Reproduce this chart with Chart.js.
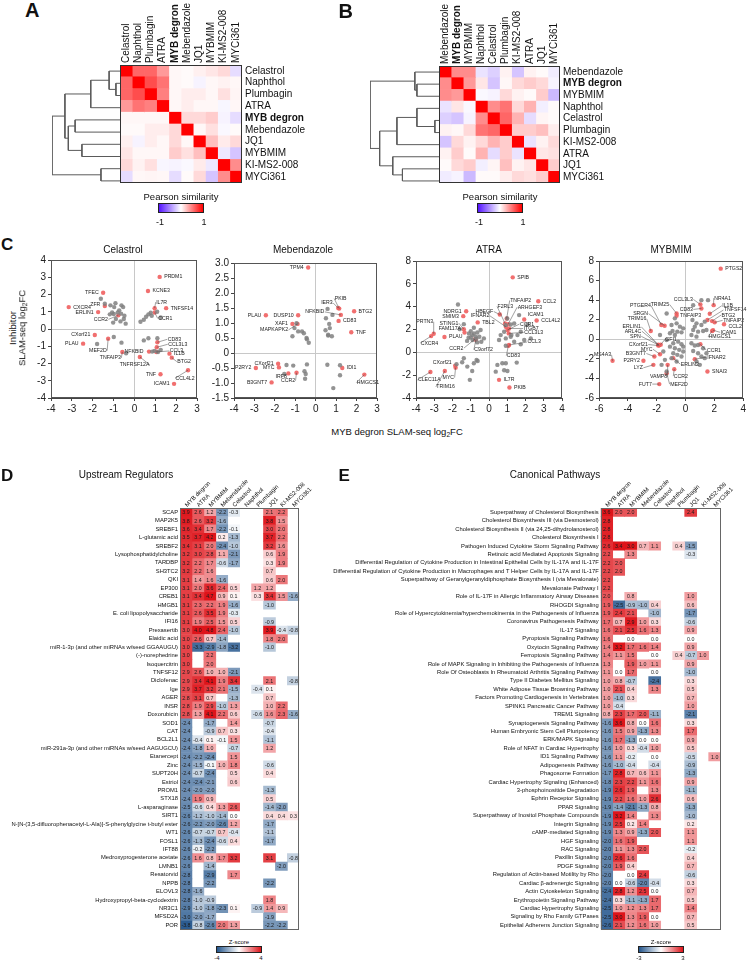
<!DOCTYPE html>
<html>
<head>
<meta charset="utf-8">
<script src="https://cdn.jsdelivr.net/npm/chart.js@4.4.1/dist/chart.umd.min.js"></script>
<style>
  body { margin: 0; background: #fff; }
  #fig { position: relative; width: 748px; height: 962px; overflow: hidden; background: #fff;
         font-family: "Liberation Sans", Arial, sans-serif; color: #111; }
  #fig canvas { position: absolute; }
  .t { position: absolute; white-space: nowrap; line-height: 1; }
  .letter { position: absolute; font-weight: bold; line-height: 1; }
  .bar { position: absolute; box-sizing: border-box; border: 1px solid #222; }
  sub { font-size: 0.7em; vertical-align: -0.25em; line-height: 0; }
</style>
</head>
<body>
<div id="fig"></div>
<script>
const _ = null;

// ---- A / B : pearson similarity between treatments ----
const orderA = ['Celastrol', 'Naphthol', 'Plumbagin', 'ATRA', 'MYB degron', 'Mebendazole', 'JQ1', 'MYBMIM', 'KI-MS2-008', 'MYCi361'];
const pearsonA = [
  [1, .6, .6, .4, .03, .02, .06, .1, .15, -.15],
  [.6, 1, .7, .55, .03, .02, -.05, .03, .05, .03],
  [.6, .7, 1, .5, .03, .07, .07, .03, .12, .04],
  [.4, .55, .5, 1, .03, .07, .03, .03, -.04, .03],
  [.03, .03, .03, .03, 1, .15, .15, .2, -.05, -.15],
  [.02, .02, .07, .07, .15, 1, .03, .12, -.03, .02],
  [.06, -.05, .07, .03, .15, .03, 1, .25, .08, .15],
  [.1, .03, .03, .03, .2, .12, .25, 1, -.1, -.25],
  [.15, .05, .12, -.04, -.05, -.03, .08, -.1, 1, .45],
  [-.15, .03, .04, .03, -.15, .02, .15, -.25, .45, 1]
];
// merges: [child a, child b, height]; new node ids continue after the leaves
const dendroA = [[1, 2, .06], [0, 10, .16], [11, 3, .43], [4, 5, .66], [6, 7, .56], [13, 14, .76], [12, 15, .81], [8, 9, .28], [16, 17, 1]];

const orderB = ['Mebendazole', 'MYB degron', 'MYBMIM', 'Naphthol', 'Celastrol', 'Plumbagin', 'KI-MS2-008', 'ATRA', 'JQ1', 'MYCi361'];
const pearsonB = [
  [1, .45, .45, -.12, -.2, .05, -.25, .05, .02, -.08],
  [.45, 1, .4, .1, -.25, .03, .15, .2, .15, -.05],
  [.45, .4, 1, -.03, -.05, .15, .05, .02, .2, -.3],
  [-.12, .1, -.03, 1, .45, .55, .15, .3, -.07, .02],
  [-.2, -.25, -.05, .45, 1, .6, .3, -.15, .04, .02],
  [.05, .03, .15, .55, .6, 1, .2, .2, .25, .07],
  [-.25, .15, .05, .15, .3, .2, 1, -.12, .05, .15],
  [.05, .2, .02, .3, -.15, .2, -.12, 1, .1, .12],
  [.02, .15, .2, -.07, .04, .25, .05, .1, 1, .2],
  [-.08, -.05, -.3, .02, .02, .07, .15, .12, .2, 1]
];
const dendroB = [[4, 5, .06], [3, 10, .32], [11, 6, .61], [1, 2, .32], [0, 13, .35], [8, 9, .53], [7, 15, .67], [12, 16, .86], [14, 17, 1]];

// ---- C : SLAM-seq log2FC, [x = MYB degron, y = inhibitor] ----
const celastrolX = [-4, 3, 1], celastrolY = [-4, 4, 1];
const celastrolGray = [[-1.61,1.75],[-1.42,1.46],[-1.15,1.37],[-0.97,1.27],[-0.91,1.5],[-0.62,1.37],[-0.54,1.27],[-1.07,0.96],[-0.73,1.08],[-0.48,0.77],[-0.64,0.89],[-1.18,0.85],[-0.99,0.87],[-0.89,0.58],[-1.02,0.37],[-0.67,0.44],[-0.42,0.31],[-0.51,0.58],[-0.8,0.96],
  [0.29,0.42],[0.45,0.54],[0.56,0.71],[0.67,0.85],[0.78,0.94],[0.83,0.77],[1.26,0.67],[1.09,1.0],
  [-1.79,-0.87],[-0.99,-0.46],[-0.62,-0.79],[-0.4,-1.41],
  [0.45,-0.66],[0.67,-0.54],[1.1,-0.54],[0.96,-1.27],[1.13,-1.33],[1.26,-1.21],[0.85,-1.31]];
const celastrolHits = [['PRDM1',1.21,3.02],['KCNE3',0.65,2.2],['TFEC',-1.5,2.1],['IL7R',0.97,1.21],['TNFSF14',1.52,1.21],['CXCR4',-3.15,1.27],['ZFR',-1.42,1.33],['ERLIN1',-1.74,0.98],['CCR2',-0.77,0.79],['CCR1',0.97,0.96],['CXorf21',-1.9,-0.35],['PLAU',-2.46,-0.85],['MEF2D',-1.26,-0.56],['TNFAIP3',-0.58,-1.33],['TNFRSF12A',0.26,-1.62],['NFKBID',0.7,-1.31],['CD83',1.1,-0.77],['CCL3L3',1.07,-1.06],['CCL3',1.05,-1.33],['IL1B',1.68,-1.43],['BTG2',1.79,-1.66],['TNF',1.25,-2.62],['CCL4L2',2.57,-2.39],['ICAM1',1.9,-3.18]];

const mebendazoleX = [-4, 3, 1], mebendazoleY = [-1.5, 3, 0.5];
const mebendazoleGray = [[-1.14,0.56],[-1.04,0.83],[-0.94,0.99],[-0.86,0.72],[-0.67,0.72],[-0.58,0.66],[-0.45,0.5],[-0.34,0.34],[-0.43,0.46],
  [0.48,0.76],[0.61,0.61],[0.69,0.83],[0.66,0.97],[0.82,1.27],[0.5,1.16],[0.61,0.58],[0.79,0.56],[0.58,1.47],
  [-1.43,-0.4],[-1.1,-0.42],[-0.55,-0.61],[-0.49,-0.7],[-0.52,-0.86],[-0.43,-0.38],[0.57,-0.39],[1.19,-0.41],[1.19,-0.74],[0.86,-1.17],[-1.54,-0.7]];
const mebendazoleHits = [['TPM4',-0.37,2.85],['PKIB',1.15,1.48],['IER3',1.1,1.5],['NFKBID',1.23,1.27],['BTG2',1.88,1.39],['CD83',1.12,1.07],['TNF',1.74,0.69],['PLAU',-2.44,1.26],['DUSP10',-0.86,1.26],['XAF1',-1.14,0.97],['MAPKAPK2',-0.89,0.97],['CXorf21',-1.84,-0.36],['MYC',-1.8,-0.48],['P2RY2',-2.93,-0.5],['IRF8',-1.34,-0.68],['CCR2',-0.94,-0.66],['B3GNT7',-2.16,-0.98],['IDI1',1.3,-0.5],['HMGCS1',2.38,-0.72]];

const atraX = [-4, 4, 1], atraY = [-4, 8, 2];
const atraGray = [[-1.7,4.19],[-1.38,2.47],[-1.6,2.03],[-1.0,1.86],[-0.92,1.51],[-1.12,1.28],[-0.83,1.66],[-0.73,1.37],[-0.53,1.37],[-0.42,0.93],[-0.64,0.87],[-0.9,1.08],[-0.28,1.22],[-1.1,1.66],[-0.46,1.95],[-0.83,2.15],[-0.64,1.74],[-1.2,1.0],[-0.7,1.2],[-1.0,1.3],
  [1.65,3.26],[1.0,2.97],[0.92,2.38],[1.19,2.44],[1.38,2.53],[0.83,1.8],[0.64,1.51],[0.55,1.08],[0.92,1.22],[1.19,1.37],[1.56,1.51],[1.74,1.8],[2.11,2.44],[2.29,1.22],[1.93,1.08],[1.38,0.93],[1.74,0.7],[0.92,0.58],[1.23,1.51],
  [-1.38,-0.52],[-1.47,-0.87],[-1.19,-1.25],[-0.83,-0.96],[-0.68,-0.67],[-0.62,-0.76],[-0.92,-1.63],[-1.05,-2.41],[-1.78,-1.05],
  [0.46,-1.1],[0.73,-0.96],[0.92,-0.96],[0.83,-1.57],[1.01,-1.63],[1.52,-0.9],[0.37,-1.69]];
const atraHits = [['SPIB',1.3,6.57],['CCL2',2.7,4.48],['TNFAIP2',0.97,2.97],['F2RL3',0.88,2.53],['ARHGEF3',1.05,2.47],['HBEGF',0.59,3.31],['IFNAR2',0.92,2.24],['TBL2',-0.62,2.62],['ICAM1',1.93,2.88],['CCL4L2',2.61,2.79],['CCR1',1.01,1.95],['ITGB7',1.1,2.09],['CCL3L3',1.08,1.66],['CCL3',1.1,0.64],['CD83',1.06,0.58],['NDRG1',-1.25,3.6],['SMIM3',-1.41,3.17],['STING1',-1.38,2.03],['FAM117A',-1.34,1.74],['PRTN3',-3.03,1.63],['CXCR4',-3.17,1.42],['PLAU',-2.44,1.34],['CCR2',-0.77,1.16],['C9orf72',-0.72,1.1],['CXorf21',-1.85,-1.16],['MYC',-1.83,-1.34],['CLEC11A',-3.21,-1.72],['TRIM16',-2.42,-1.63],['IL7R',0.55,-2.41],['PKIB',1.12,-3.08]];

const mybmimX = [-6, 4, 2], mybmimY = [-6, 8, 2];
const mybmimGray = [[-1.31,2.64],[-0.74,2.14],[-0.97,1.46],[-0.62,1.63],[-0.39,1.29],[-0.9,0.85],[-0.57,0.78],[-0.28,0.71],[-0.74,0.44],[-1.08,0.61],[-0.16,1.12],[-1.77,0.44],[-1.31,-0.07],[-0.85,-0.41],[-0.51,-0.24],[-0.28,-0.51],[-1.08,-0.75],[-0.74,-0.92],[-0.44,-1.08],[-0.16,-0.75],[-0.85,-1.42],[-0.57,-1.59],[-0.28,-1.76],[-0.97,-1.93],[-1.43,-2.1],[-0.62,-2.27],[-0.16,-1.25],[-1.54,-1.25],[-1.66,-2.61],[-1.31,-3.29],
  [0.53,3.49],[1.1,4.0],[1.56,4.0],[0.48,1.97],[0.76,1.63],[1.1,1.46],[1.33,1.8],[0.53,0.95],[0.87,0.78],[1.22,0.85],[1.45,0.95],[0.64,1.29],[0.41,0.44],[0.76,0.27],
  [0.41,-0.41],[0.64,-0.64],[0.87,-0.58],[1.22,-0.92],[0.87,-1.42],[1.1,-1.76],[1.33,-1.93],[1.45,-1.42],[0.53,-1.19],[0.76,-2.27],[0.99,-2.61]];
const mybmimHits = [['PTGS2',2.44,7.22],['NR4A1',1.95,3.49],['IL1B',1.68,2.61],['TNFSF14',1.52,1.97],['BTG2',1.84,1.86],['TNFAIP2',2.02,1.73],['CCL2',2.67,1.53],['ICAM1',1.91,0.92],['HMGCS1',1.84,0.85],['CCL3L3',1.03,3.56],['CD83',1.1,3.15],['TRIM25',-0.62,2.64],['TNFAIP3',-0.62,2.41],['PTGER4',-1.68,1.46],['SRGN',-1.45,1.39],['TRIM16',-2.41,0.85],['ERLIN1',-1.89,-0.56],['ARL4C',-1.85,-0.6],['SPN',-1.82,-0.62],['CXorf21',-1.89,-0.64],['GFI1',-1.72,-0.55],['MYC',-1.77,-1.53],['B3GNT7',-2.16,-1.76],['P2RY2',-2.92,-2.2],['LYZ',-2.23,-2.61],['MS4A3',-5.06,-2.2],['VAMP8',-1.24,-2.61],['FUT7',-1.82,-4.58],['MEF2D',-1.31,-3.46],['CCR2',-0.78,-3.05],['ERLIN2',-0.85,-1.93],['CCR1',1.03,-0.51],['IFNAR2',0.64,-2.03],['SNAI3',1.52,-3.29]];

// ---- D / E : IPA z-scores ----
const heatmapColumns = ['MYB degron', 'ATRA', 'MYBMIM', 'Mebendazole', 'Celastrol', 'Naphthol', 'Plumbagin', 'JQ1', 'KI-MS2-008', 'MYCi361'];

const upstreamRows = ['SCAP','MAP2K5','SREBF1','L-glutamic acid','SREBF2','Lysophosphatidylcholine','TARDBP','SH3TC2','QKI','EP300','CREB1','HMGB1','E. coli lipopolysaccharide','IFI16','Prexasertib','Elaidic acid','miR-1-3p (and other miRNAs w/seed GGAAUGU)','(-)-norephedrine','Isoquercitrin','TNFSF12','Diclofenac','Ige','AGER','INSR','Doxorubicin','SOD1','CAT','BCL2L1','miR-291a-3p (and other miRNAs w/seed AAGUGCU)','Etanercept','Zinc','SUPT20H','Estriol','PROM1','STX18','L-asparaginase','SIRT1','N-[N-(3,5-difluorophenacetyl-L-Ala)]-S-phenylglycine t-butyl ester','WT1','FOSL1','IFT88','Medroxyprogesterone acetate','LMNB1','Resatorvid','NPPB','ELOVL3','Hydroxypropyl-beta-cyclodextrin','NR3C1','MFSD2A','POR'];
const upstreamZ = [
  [3.9,2.6,1.2,-2.2,-0.3,_,_,2.1,2.2,_],
  [3.8,2.6,3.2,-1.6,_,_,_,3.8,1.5,_],
  [3.6,3.4,1.7,-2.2,-0.1,_,_,3.0,2.0,_],
  [3.5,3.7,4.2,0.2,-1.3,_,_,3.7,2.2,_],
  [3.4,3.1,2.0,-2.4,-1.0,_,_,3.2,1.6,_],
  [3.2,3.0,2.8,1.1,-2.1,_,_,0.6,1.9,_],
  [3.2,2.2,1.7,-0.6,-1.7,_,_,0.3,1.9,_],
  [3.2,2.2,1.6,_,_,_,_,0.7,_,_],
  [3.1,1.4,1.6,-1.6,_,_,_,0.6,2.0,_],
  [3.1,2.0,3.6,2.4,0.5,_,1.2,1.2,_,_],
  [3.1,3.4,4.7,0.9,0.1,_,0.3,3.4,1.5,-1.6],
  [3.1,2.3,2.2,1.9,-1.6,_,_,-1.0,_,_],
  [3.1,2.6,3.5,1.9,-0.3,_,_,_,_,_],
  [3.1,1.9,2.5,1.5,0.5,_,_,-0.9,_,_],
  [3.0,4.0,4.8,2.4,-1.0,_,_,3.9,-0.4,-0.8],
  [3.0,2.6,0.7,-1.4,_,_,_,1.8,2.0,_],
  [3.0,-3.3,-2.9,-1.8,-3.2,_,_,-1.0,_,_],
  [3.0,_,2.2,_,_,_,_,_,_,_],
  [3.0,_,2.0,_,_,_,_,_,_,_],
  [2.9,2.6,1.0,1.0,-2.1,_,_,_,_,_],
  [2.9,3.4,4.1,1.9,3.4,_,_,2.1,_,-0.8],
  [2.9,3.7,3.2,2.1,-1.5,_,-0.4,0.1,_,_],
  [2.8,3.1,0.7,_,-1.3,_,_,0.7,_,_],
  [2.8,1.9,2.9,-1.0,1.3,_,_,1.0,2.2,_],
  [2.8,1.3,4.1,2.2,0.6,_,-0.6,1.6,2.3,-1.6],
  [-2.4,_,-1.7,_,1.4,_,_,-0.7,_,_],
  [-2.4,_,-0.9,0.7,0.3,_,_,-0.4,_,_],
  [-2.4,-0.4,0.1,-0.1,1.5,_,_,-1.1,_,_],
  [-2.4,-1.8,1.0,_,-0.7,_,_,1.2,_,_],
  [-2.4,-2.2,-2.4,_,1.5,_,_,_,_,_],
  [-2.4,-1.5,-0.1,1.0,1.8,_,_,-0.6,_,_],
  [-2.4,-0.7,-2.4,_,0.5,_,_,0.4,_,_],
  [-2.4,-2.4,-2.1,_,0.6,_,_,_,_,_],
  [-2.4,-2.0,-2.0,_,_,_,_,-1.3,_,_],
  [-2.4,1.9,0.9,_,_,_,_,0.5,_,_],
  [-2.5,-0.6,0.4,1.3,2.6,_,_,-1.4,-2.0,_],
  [-2.6,-1.2,-1.0,-1.4,0.0,_,_,0.4,0.4,0.3],
  [-2.6,-2.2,-2.0,-2.6,1.2,_,_,-1.7,_,_],
  [-2.6,-0.7,-0.7,0.7,-0.4,_,_,-1.1,_,_],
  [-2.6,-1.3,-2.4,-0.6,0.4,_,_,-1.7,_,_],
  [-2.6,-0.2,-2.2,_,_,_,_,_,_,_],
  [-2.6,1.6,0.8,1.7,3.2,_,_,3.1,_,-0.8],
  [-2.6,_,-1.4,_,_,_,_,_,-2.0,_],
  [-2.8,_,-2.9,_,1.7,_,_,_,_,_],
  [-2.8,_,-2.2,_,_,_,_,-2.2,_,_],
  [-2.8,-1.6,_,_,_,_,_,_,_,_],
  [-2.8,-1.0,-0.9,_,_,_,_,1.8,_,_],
  [-2.9,-1.0,-1.8,-2.3,0.1,_,-0.9,1.4,0.9,_],
  [-3.0,-2.0,-1.7,_,_,_,_,-1.9,_,_],
  [-3.8,-0.8,-2.6,2.0,1.3,_,_,-2.2,-2.2,_]
];

const pathwayRows = ['Superpathway of Cholesterol Biosynthesis','Cholesterol Biosynthesis III (via Desmosterol)','Cholesterol Biosynthesis II (via 24,25-dihydrolanosterol)','Cholesterol Biosynthesis I','Pathogen Induced Cytokine Storm Signaling Pathway','Retinoic acid Mediated Apoptosis Signaling','Differential Regulation of Cytokine Production in Intestinal Epithelial Cells by IL-17A and IL-17F','Differential Regulation of Cytokine Production in Macrophages and T Helper Cells by IL-17A and IL-17F','Superpathway of Geranylgeranyldiphosphate Biosynthesis I (via Mevalonate)','Mevalonate Pathway I','Role of IL-17F in Allergic Inflammatory Airway Diseases','RHOGDI Signaling','Role of Hypercytokinemia/hyperchemokinemia in the Pathogenesis of Influenza','Coronavirus Pathogenesis Pathway','IL-17 Signaling','Pyroptosis Signaling Pathway','Oxytocin Signaling Pathway','Ferroptosis Signaling Pathway','Role of MAPK Signaling in Inhibiting the Pathogenesis of Influenza','Role Of Osteoblasts In Rheumatoid Arthritis Signaling Pathway','Type II Diabetes Mellitus Signaling','White Adipose Tissue Browning Pathway','Factors Promoting Cardiogenesis in Vertebrates','SPINK1 Pancreatic Cancer Pathway','TREM1 Signaling','Synaptogenesis Signaling Pathway','Human Embryonic Stem Cell Pluripotency','ERK/MAPK Signaling','Role of NFAT in Cardiac Hypertrophy','ID1 Signaling Pathway','Adipogenesis Pathway','Phagosome Formation','Cardiac Hypertrophy Signaling (Enhanced)','3-phosphoinositide Degradation','Ephrin Receptor Signaling','PPAR Signaling','Superpathway of Inositol Phosphate Compounds','Integrin Signaling','cAMP-mediated Signaling','HGF Signaling','RAC Signaling','Paxillin Signaling','PDGF Signaling','Regulation of Actin-based Motility by Rho','Cardiac β-adrenergic Signaling','Actin Cytoskeleton Signaling','Erythropoietin Signaling Pathway','Cardiac Hypertrophy Signaling','Signaling by Rho Family GTPases','Epithelial Adherens Junction Signaling'];
const pathwayZ = [
  [3.6,2.0,2.0,_,_,_,_,2.4,_,_],
  [2.8,_,_,_,_,_,_,_,_,_],
  [2.8,_,_,_,_,_,_,_,_,_],
  [2.8,_,_,_,_,_,_,_,_,_],
  [2.6,3.4,3.0,0.7,1.1,_,0.4,-1.5,_,_],
  [2.2,_,1.3,_,_,_,_,-0.3,_,_],
  [2.2,2.0,_,_,_,_,_,_,_,_],
  [2.2,2.0,_,_,_,_,_,_,_,_],
  [2.2,_,_,_,_,_,_,_,_,_],
  [2.2,_,_,_,_,_,_,_,_,_],
  [2.0,_,0.8,_,_,_,_,1.0,_,_],
  [1.9,-2.5,-0.9,-1.0,0.4,_,_,0.6,_,_],
  [1.9,2.4,2.1,_,-1.0,_,_,-1.7,_,_],
  [1.7,0.7,2.9,1.0,0.3,_,_,-0.6,_,_],
  [1.6,2.1,2.5,1.6,1.3,_,_,0.9,_,_],
  [1.6,_,0.0,_,0.0,_,_,0.0,_,_],
  [1.4,3.2,1.7,1.6,1.4,_,_,0.9,_,_],
  [1.4,1.1,1.5,_,0.0,_,0.4,-0.7,1.0,_],
  [1.3,_,1.9,1.0,1.1,_,_,0.9,_,_],
  [1.1,0.0,1.7,_,0.0,_,_,-1.0,_,_],
  [1.0,0.8,-0.7,_,-2.4,_,_,0.3,_,_],
  [1.0,2.1,0.4,_,1.3,_,_,0.5,_,_],
  [1.0,-1.0,0.3,_,_,_,_,0.7,_,_],
  [1.0,-0.4,_,_,_,_,_,1.0,_,_],
  [0.8,2.3,1.7,2.0,-1.1,_,_,-2.1,_,_],
  [-1.6,3.6,0.8,0.0,1.6,_,_,0.3,_,_],
  [-1.6,1.5,0.9,-1.3,1.3,_,_,1.7,_,_],
  [-1.6,1.7,-1.3,0.0,0.0,_,_,0.9,_,_],
  [-1.6,1.0,0.3,-0.4,1.0,_,_,0.5,_,_],
  [-1.6,1.1,-0.2,_,0.0,_,_,-0.5,_,1.0],
  [-1.6,-1.0,-0.4,_,-0.4,_,_,-0.9,_,_],
  [-1.7,2.8,0.7,0.6,1.1,_,_,-1.3,_,_],
  [-1.8,2.3,2.2,1.1,1.6,_,_,0.9,_,_],
  [-1.9,2.6,1.9,_,1.3,_,_,-1.1,_,_],
  [-1.9,2.2,1.6,1.0,2.6,_,_,0.6,_,_],
  [-1.9,-1.4,-2.1,-1.3,0.8,_,_,-1.3,_,_],
  [-1.9,3.2,1.4,_,1.3,_,_,-1.0,_,_],
  [-1.9,2.5,0.2,1.4,_,_,_,0.2,_,_],
  [-1.9,1.3,0.9,-1.3,2.0,_,_,1.1,_,_],
  [-2.0,1.6,1.9,_,_,_,_,1.1,_,_],
  [-2.0,1.1,1.3,2.0,_,_,_,-0.2,_,_],
  [-2.0,2.6,1.6,_,_,_,_,0.4,_,_],
  [-2.0,1.9,0.4,_,_,_,_,0.7,_,_],
  [-2.0,_,0.0,2.4,_,_,_,-0.6,_,_],
  [-2.0,0.0,-0.6,-2.0,-0.4,_,_,0.3,_,_],
  [-2.4,2.8,1.2,2.5,0.0,_,_,0.7,_,_],
  [-2.4,0.3,-1.1,-1.3,1.7,_,_,0.5,_,_],
  [-2.5,1.0,1.2,1.3,1.7,_,_,1.4,_,_],
  [-2.5,3.0,1.3,1.9,0.0,_,_,0.7,_,_],
  [-2.6,2.1,1.2,1.6,1.0,_,_,0.5,_,_]
];

// label placement for the highlighted genes: [dx, dy, align] in px
const celastrolLabels = {KCNE3:[4,0], TFEC:[-4,0], IL7R:[1,-6,'l'], CXCR4:[4,0], ZFR:[-4,-1], ERLIN1:[-4,0], CCR2:[-10,4], CCR1:[3,6], MEF2D:[-1,12], TNFAIP3:[-1,6], TNFRSF12A:[10,8,'r'], NFKBID:[-5,0], CD83:[10,-3], CCL3L3:[11,-3], CCL3:[13,-1], BTG2:[5,4], TNF:[-4,0], CCL4L2:[-13,8,'l'], ICAM1:[-4,0], CXorf21:[-4,0], PLAU:[-4,0]};
const mebendazoleLabels = {TPM4:[-4,0], PKIB:[-5,-10,'l'], IER3:[-5,-5], NFKBID:[-16,-3], PLAU:[-4,0], DUSP10:[-4,0], XAF1:[-4,0], MAPKAPK2:[-9,6], CXorf21:[-4,0], MYC:[-4,0], P2RY2:[-4,0], IRF8:[-1,3], CCR2:[-1,8], B3GNT7:[-4,0], HMGCS1:[-8,8,'l']};
const atraLabels = {TNFAIP2:[3,-18], F2RL3:[-8,-17,'l'], ARHGEF3:[9,-17], HBEGF:[-6,-3], IFNAR2:[-16,-11], ICAM1:[3,-5], CCR1:[12,-6], ITGB7:[14,0], CCL3L3:[15,-1], CCL3:[18,-3], CD83:[-2,10,'l'], NDRG1:[-4,0], SMIM3:[-4,0], STING1:[-5,-6], FAM117A:[-3,-4], PRTN3:[0,-12,'r'], CXCR4:[-11,7,'l'], CCR2:[-11,9], C9orf72:[-2,10,'l'], CXorf21:[-3,-3], MYC:[-1,10], CLEC11A:[-13,8,'l'], TRIM16:[-9,16,'l']};
const mybmimLabels = {NR4A1:[0,-7,'l'], IL1B:[12,-8], TNFSF14:[16,-10], BTG2:[9,-6], TNFAIP2:[8,-2], CCL2:[4,2], ICAM1:[7,2], HMGCS1:[-4,6,'l'], CCL3L3:[-7,-5], CD83:[-8,1], TRIM25:[-7,-9], TNFAIP3:[3,0], PTGER4:[-10,-19], SRGN:[-16,-12], TRIM16:[-4,-12], ERLIN1:[-17,-18], ARL4C:[-17,-14], SPN:[-18,-9], CXorf21:[-10,-1], GFI1:[4,-5], MYC:[-7,-5], B3GNT7:[-8,-3], P2RY2:[-3,0], LYZ:[-10,3], MS4A3:[-1,-6], VAMP8:[0,12,'r'], FUT7:[-7,0], MEF2D:[3,11], CCR2:[-1,7,'l'], ERLIN2:[7,6], CCR1:[6,6], IFNAR2:[12,-2]};

// ---------------------------------------------------------------
const FONT = '"Liberation Sans", Arial, sans-serif';
Chart.defaults.font.family = FONT;
Chart.defaults.color = '#222';
Chart.defaults.animation = false;
Chart.defaults.plugins.legend.display = false;
Chart.defaults.plugins.tooltip.enabled = false;
Chart.defaults.layout.autoPadding = false;

const fig = document.getElementById('fig');

function place(l, t, w, h) {
  const c = document.createElement('canvas');
  c.width = w; c.height = h;
  c.style.left = l + 'px'; c.style.top = t + 'px';
  fig.appendChild(c);
  return c;
}

function text(str, x, y, size, align, rotate) {
  const d = document.createElement('div');
  d.className = 't';
  d.innerHTML = str;
  d.style.left = x + 'px'; d.style.top = y + 'px'; d.style.fontSize = size + 'px';
  const ax = { l: '0', c: '-50%', r: '-100%' }[align || 'c'];
  d.style.transform = `translate(${ax},-50%)` + (rotate ? ` rotate(${rotate}deg)` : '');
  fig.appendChild(d);
}

function letter(ch, x, y, size) {
  const d = document.createElement('div');
  d.className = 'letter';
  d.textContent = ch;
  d.style.left = x + 'px'; d.style.top = y + 'px'; d.style.fontSize = size + 'px';
  fig.appendChild(d);
}

function colorBar(x, y, w, h, neg, pos) {
  const d = document.createElement('div');
  d.className = 'bar';
  Object.assign(d.style, { left: x + 'px', top: y + 'px', width: w + 'px', height: h + 'px',
    background: `linear-gradient(to right, rgb(${neg}), #fff, rgb(${pos}))` });
  fig.appendChild(d);
}

function ramp(v, max, neg, pos, gamma) {
  if (v === null) return 'rgba(0,0,0,0)';
  const t = Math.max(-1, Math.min(1, v / max));
  const end = t < 0 ? neg : pos, a = Math.pow(Math.abs(t), gamma || 1);
  return 'rgb(' + end.map(e => Math.round(255 + (e - 255) * a)).join(',') + ')';
}

// plugins
const frame = {
  id: 'frame',
  afterDraw(chart, args, o) {
    const { ctx, chartArea: a } = chart;
    ctx.save();
    ctx.strokeStyle = o.color; ctx.lineWidth = 1;
    ctx.strokeRect(Math.round(a.left) + 0.5, Math.round(a.top) + 0.5, Math.round(a.right - a.left) - 1, Math.round(a.bottom - a.top) - 1);
    ctx.restore();
  }
};

const colLabels = {
  id: 'colLabels',
  afterDraw(chart, args, o) {
    const { ctx, chartArea, scales: { x } } = chart;
    chart.data.datasets.forEach((ds, i) => {
      ctx.save();
      ctx.translate(x.getPixelForValue(i + 0.5), chartArea.top - o.pad);
      ctx.rotate(-o.angle * Math.PI / 180);
      ctx.font = `${o.bold && ds.label === 'MYB degron' ? 'bold ' : ''}${o.size}px ${FONT}`;
      ctx.fillStyle = '#111';
      ctx.textAlign = 'left'; ctx.textBaseline = 'middle';
      ctx.fillText(ds.label, 0, 0);
      ctx.restore();
    });
  }
};

const cellText = {
  id: 'cellText',
  afterDatasetsDraw(chart, args, o) {
    if (!o.show) return;
    const ctx = chart.ctx;
    ctx.save();
    ctx.font = `${o.size}px ${FONT}`;
    ctx.fillStyle = '#1a1a1a'; ctx.textAlign = 'center'; ctx.textBaseline = 'middle';
    chart.data.datasets.forEach((ds, d) => {
      chart.getDatasetMeta(d).data.forEach((bar, i) => {
        const v = ds.values[i];
        if (v === null) return;
        ctx.fillText(v.toFixed(1), (bar.x + bar.base) / 2, bar.y + 0.4);
      });
    });
    ctx.restore();
  }
};

const geneLabels = {
  id: 'geneLabels',
  afterDatasetsDraw(chart) {
    const ds = chart.data.datasets[1];
    const ctx = chart.ctx;
    ctx.save();
    ctx.font = `5.2px ${FONT}`;
    ctx.textBaseline = 'middle';
    ctx.strokeStyle = '#444'; ctx.lineWidth = 0.5; ctx.fillStyle = '#222';
    chart.getDatasetMeta(1).data.forEach((pt, i) => {
      const name = ds.data[i].name;
      const off = ds.labelOffsets[name] || [4, 0];
      const align = off[2] || (off[0] >= 0 ? 'l' : 'r');
      const tx = pt.x + off[0], ty = pt.y + off[1];
      if (Math.hypot(off[0], off[1]) > 6) {
        ctx.beginPath(); ctx.moveTo(pt.x, pt.y); ctx.lineTo(tx, ty); ctx.stroke();
      }
      ctx.textAlign = { l: 'left', r: 'right', c: 'center' }[align];
      ctx.fillText(name, tx + (align === 'l' ? 0.5 : -0.5), ty);
    });
    ctx.restore();
  }
};

function heatmap(pos, rows, cols, values, o) {
  const [l, t, w, h] = pos;
  return new Chart(place(l, t, w, h), {
    type: 'bar',
    data: {
      labels: rows,
      datasets: cols.map((col, c) => ({
        label: col,
        values: rows.map((r, i) => values[i][c]),
        data: rows.map((r, i) => values[i][c] === null ? null : [c, c + 1]),
        backgroundColor: rows.map((r, i) => ramp(values[i][c], o.max, o.neg, o.pos, o.gamma)),
        grouped: false, barPercentage: 1, categoryPercentage: 1, borderWidth: 0
      }))
    },
    options: {
      responsive: false,
      indexAxis: 'y',
      layout: { padding: o.padding },
      scales: {
        x: { type: 'linear', display: false, min: 0, max: cols.length },
        y: {
          position: o.rowSide,
          grid: { display: false, drawTicks: false }, border: { display: false },
          afterFit: s => { s.width = o.axisWidth; },
          ticks: {
            autoSkip: false, padding: o.rowPad, color: '#111',
            font: c => ({ size: o.rowSize, weight: o.bold && c.tick && c.tick.label === 'MYB degron' ? 'bold' : 'normal' })
          }
        }
      },
      plugins: {
        frame: { color: o.frameColor },
        colLabels: { angle: o.angle, size: o.colSize, pad: o.colPad, bold: o.bold },
        cellText: { show: o.cellText, size: 5.3 }
      }
    },
    plugins: [cellText, frame, colLabels]
  });
}

function dendrogram(pos, merges, n) {
  const [l, t, w, h, pad] = pos;
  const y = [], hgt = [];
  for (let i = 0; i < n; i++) { y[i] = i; hgt[i] = 0; }
  const datasets = merges.map(([a, b, height], k) => {
    y[n + k] = (y[a] + y[b]) / 2; hgt[n + k] = height;
    return {
      data: [{ x: hgt[a], y: y[a] }, { x: height, y: y[a] }, { x: height, y: y[b] }, { x: hgt[b], y: y[b] }],
      showLine: true, borderColor: '#5a5a5a', borderWidth: 1, pointRadius: 0
    };
  });
  return new Chart(place(l, t, w, h), {
    type: 'scatter',
    data: { datasets },
    options: {
      responsive: false,
      layout: { padding: pad },
      scales: {
        x: { display: false, min: 0, max: 1, reverse: true },
        y: { display: false, min: -0.5, max: n - 0.5, reverse: true }
      }
    }
  });
}

function scatterPlot(pos, gray, hits, labels, xr, yr) {
  const [l, t, w, h, pt, pr] = pos;
  const axis = r => ({
    type: 'linear', min: r[0], max: r[1],
    ticks: { stepSize: r[2], autoSkip: false, padding: 2, font: { size: 10 }, color: '#222' },
    grid: { color: c => c.tick && c.tick.value === 0 ? '#c8c8c8' : 'rgba(0,0,0,0)', tickColor: '#444', tickLength: 3 },
    border: { color: '#444' }
  });
  return new Chart(place(l, t, w, h), {
    type: 'scatter',
    data: {
      datasets: [
        { data: gray.map(p => ({ x: p[0], y: p[1] })), backgroundColor: 'rgba(128,128,128,0.85)', pointRadius: 2.2, borderWidth: 0 },
        { data: hits.map(g => ({ x: g[1], y: g[2], name: g[0] })), labelOffsets: labels,
          backgroundColor: 'rgba(240,95,95,0.9)', pointRadius: 2.2, borderWidth: 0 }
      ]
    },
    options: {
      responsive: false,
      layout: { padding: { top: pt, right: pr, left: 0, bottom: 0 } },
      scales: {
        x: Object.assign(axis(xr), { afterFit: s => { s.height = 19; } }),
        y: Object.assign(axis(yr), { afterFit: s => { s.width = 25; } })
      },
      plugins: { frame: { color: '#555' } }
    },
    plugins: [geneLabels, frame]
  });
}

// ---- A / B ----
const PEARSON_NEG = [85, 20, 255], PEARSON_POS = [255, 0, 0];
dendrogram([48, 60, 74, 132, { left: 4, right: 2, top: 5, bottom: 5 }], dendroA, orderA.length);
heatmap([100, 0, 210, 192], orderA, orderA, pearsonA, {
  max: 1, neg: PEARSON_NEG, pos: PEARSON_POS, padding: { left: 20, top: 65, bottom: 5, right: 0 },
  rowSide: 'right', axisWidth: 68, rowPad: 3, rowSize: 10, bold: true, angle: 90, colSize: 10, colPad: 2,
  frameColor: '#333', cellText: false
});
dendrogram([366, 60, 75, 132, { left: 4, right: 2, top: 6, bottom: 5 }], dendroB, orderB.length);
heatmap([419, 0, 210, 192], orderB, orderB, pearsonB, {
  max: 1, neg: PEARSON_NEG, pos: PEARSON_POS, padding: { left: 20, top: 66, bottom: 5, right: 0 },
  rowSide: 'right', axisWidth: 69, rowPad: 3, rowSize: 10, bold: true, angle: 90, colSize: 10, colPad: 2,
  frameColor: '#333', cellText: false
});

// ---- C ----
scatterPlot([26, 252, 178, 165, 8, 7], celastrolGray, celastrolHits, celastrolLabels, celastrolX, celastrolY);
scatterPlot([209, 255, 175, 162, 8, 7], mebendazoleGray, mebendazoleHits, mebendazoleLabels, mebendazoleX, mebendazoleY);
scatterPlot([391, 253, 178, 164, 8, 7], atraGray, atraHits, atraLabels, atraX, atraY);
scatterPlot([574, 253, 174, 164, 8, 4], mybmimGray, mybmimHits, mybmimLabels, mybmimX, mybmimY);

// ---- D / E ----
const Z_NEG = [35, 85, 140], Z_POS = [222, 20, 26];
heatmap([0, 478, 322, 457], upstreamRows, heatmapColumns, upstreamZ, {
  max: 4, neg: Z_NEG, pos: Z_POS, gamma: 0.8, padding: { left: 0, top: 30, bottom: 2, right: 22.7 },
  rowSide: 'left', axisWidth: 180, rowPad: 2, rowSize: 5.8, bold: false, angle: 45, colSize: 6, colPad: 2,
  frameColor: '#666', cellText: true
});
heatmap([310, 478, 430, 457], pathwayRows, heatmapColumns, pathwayZ, {
  max: 3, neg: Z_NEG, pos: Z_POS, gamma: 0.8, padding: { left: 0, top: 30, bottom: 2, right: 19.3 },
  rowSide: 'left', axisWidth: 290.7, rowPad: 2, rowSize: 5.8, bold: false, angle: 45, colSize: 6, colPad: 2,
  frameColor: '#666', cellText: true
});

// ---- text ----
letter('A', 25, 0, 20); letter('B', 338.5, 1, 20);
letter('C', 1, 236, 17); letter('D', 1, 467, 17); letter('E', 338.5, 467, 17);

text('Pearson similarity', 181, 197, 9.5); colorBar(158, 203, 46, 10, PEARSON_NEG, PEARSON_POS);
text('-1', 160, 222, 9); text('1', 204, 222, 9);
text('Pearson similarity', 500, 197, 9.5); colorBar(477, 203, 46, 10, PEARSON_NEG, PEARSON_POS);
text('-1', 479, 222, 9); text('1', 523, 222, 9);

text('Celastrol', 123, 250, 10); text('Mebendazole', 303, 250, 10);
text('ATRA', 489, 250, 10); text('MYBMIM', 671, 250, 10);
text('Inhibitor', 13, 328, 9.5, 'c', -90);
text('SLAM-seq log<sub>2</sub>FC', 22, 328, 9.5, 'c', -90);
text('MYB degron SLAM-seq log<sub>2</sub>FC', 397, 432, 9.5);

text('Upstream Regulators', 126, 475, 10);
text('Canonical Pathways', 555, 475, 10);
text('Z-score', 239, 942, 6); colorBar(216, 946, 46, 7, Z_NEG, Z_POS);
text('-4', 217, 958, 6); text('4', 261, 958, 6);
text('Z-score', 661, 942, 6); colorBar(638, 946, 46, 7, Z_NEG, Z_POS);
text('-3', 639, 958, 6); text('3', 683, 958, 6);
</script>
</body>
</html>
